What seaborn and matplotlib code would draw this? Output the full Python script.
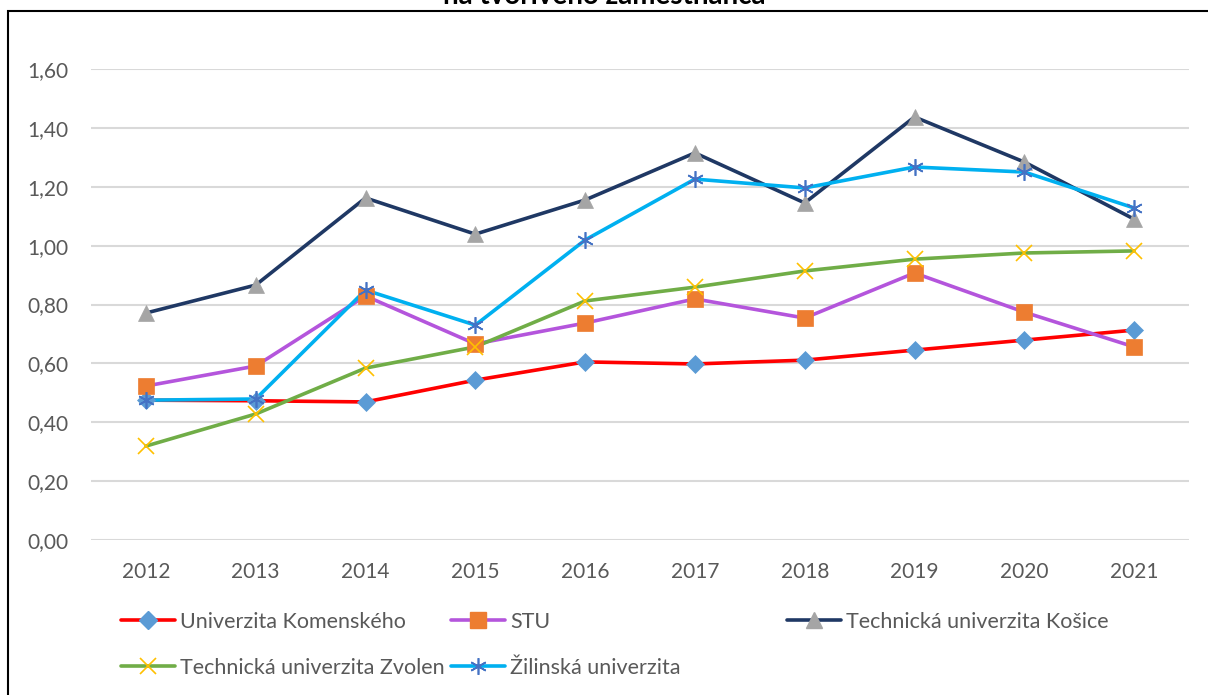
import matplotlib
matplotlib.use("Agg")
import matplotlib.pyplot as plt
import seaborn as sns
import pandas as pd
from matplotlib.lines import Line2D
from matplotlib.patches import Rectangle

# --- data ---
years = [2012, 2013, 2014, 2015, 2016, 2017, 2018, 2019, 2020, 2021]
uk = [0.475, 0.473, 0.469, 0.543, 0.605, 0.598, 0.611, 0.645, 0.679, 0.713]
stu = [0.523, 0.591, 0.829, 0.666, 0.737, 0.819, 0.754, 0.907, 0.774, 0.656]
tuke = [0.771, 0.866, 1.162, 1.039, 1.155, 1.315, 1.145, 1.437, 1.284, 1.090]
tuzvo = [0.319, 0.428, 0.584, 0.656, 0.812, 0.859, 0.914, 0.954, 0.975, 0.982]
uniza = [0.475, 0.479, 0.849, 0.730, 1.019, 1.226, 1.196, 1.267, 1.250, 1.128]
names = ["Univerzita Komenského", "STU", "Technická univerzita Košice",
         "Technická univerzita Zvolen", "Žilinská univerzita"]
yticks = [0.0, 0.2, 0.4, 0.6, 0.8, 1.0, 1.2, 1.4, 1.6]
title = "na tvorivého zamestnanca"

line_colors = ["#FF0000", "#B455DC", "#1F3864", "#70AD47", "#00B0F0"]
marker_colors = ["#5B9BD5", "#ED7D31", "#A5A5A5", "#FFC000", "#4472C4"]
markers = ["D", "s", "^", "x", (6, 2, 0)]
msizes = [9, 12, 11, 11, 12]

rows = []
for name, vals in zip(names, [uk, stu, tuke, tuzvo, uniza]):
    for i, v in enumerate(vals):
        rows.append({"pos": i, "year": years[i], "value": v, "uni": name})
df = pd.DataFrame(rows)

sns.set_style("white")
plt.rcParams['font.family'] = ['Lato', 'DejaVu Sans']
text_color = "#595959"

fig = plt.figure(figsize=(12.08, 6.95), dpi=100)
ax = fig.add_axes([91 / 1208, 1 - 540 / 695, 1098 / 1208, 471 / 695])

sns.lineplot(data=df, x="pos", y="value", hue="uni", hue_order=names,
             palette=dict(zip(names, line_colors)), linewidth=2.6,
             legend=False, ax=ax, zorder=3)

for name, mc, mk, ms in zip(names, marker_colors, markers, msizes):
    sub = df[df["uni"] == name]
    if mk in ("x",) or isinstance(mk, tuple):
        ax.plot(sub["pos"], sub["value"], linestyle="none", marker=mk,
                markersize=ms, markeredgecolor=mc, markeredgewidth=1.2, zorder=4)
    else:
        ax.plot(sub["pos"], sub["value"], linestyle="none", marker=mk,
                markersize=ms, markerfacecolor=mc, markeredgecolor=mc,
                markeredgewidth=0.5, zorder=4)

ax.set_xlim(-0.5, 9.5)
ax.set_ylim(0, 1.6)
ax.set_yticks(yticks)
ax.set_yticklabels([f"{t:.2f}".replace(".", ",") for t in yticks])
ax.set_xticks(range(len(years)))
ax.set_xticklabels([str(y) for y in years])
ax.tick_params(axis="both", length=0, labelsize=15, colors=text_color)
ax.tick_params(axis="y", pad=16)
ax.tick_params(axis="x", pad=16)
ax.grid(axis="y", color="#D9D9D9", linewidth=1.5, zorder=0)
ax.grid(axis="x", visible=False)
for s in ax.spines.values():
    s.set_visible(False)
ax.set_xlabel("")
ax.set_ylabel("")
ax.patch.set_alpha(0)

# --- legend ---
handles = []
for lc, mc, mk, ms in zip(line_colors, marker_colors, markers, msizes):
    if mk in ("x",) or isinstance(mk, tuple):
        h = Line2D([], [], color=lc, linewidth=2.6, marker=mk, markersize=ms,
                   markeredgecolor=mc, markeredgewidth=1.2)
    else:
        h = Line2D([], [], color=lc, linewidth=2.6, marker=mk, markersize=ms,
                   markerfacecolor=mc, markeredgecolor=mc)
    handles.append(h)

leg_kw = dict(frameon=False, fontsize=15.5, handlelength=2.5, handletextpad=0.25,
              labelcolor=text_color, borderaxespad=0, borderpad=0,
              labelspacing=1.2)
leg1 = fig.legend([handles[0], handles[3], handles[1], handles[4]],
                  [names[0], names[3], names[1], names[4]], ncol=2,
                  loc="upper left", bbox_to_anchor=(121 / 1208, 1 - 612 / 695),
                  columnspacing=0.3, **leg_kw)
leg2 = fig.legend([handles[2]], [names[2]], loc="upper left",
                  bbox_to_anchor=(787 / 1208, 1 - 612 / 695), **leg_kw)

# --- outer frame and (cut off) title ---
fig.patches.append(Rectangle((8 / 1208, -0.1), 1.2, 1 - 11 / 695 + 0.1,
                             transform=fig.transFigure, fill=False,
                             edgecolor="black", linewidth=1.5, clip_on=False))
fig.text(0.5, 1 - 4 / 695, title, ha="center", va="baseline", fontsize=20,
         fontweight="bold", color="black")

plt.savefig("out.png", dpi=100)
